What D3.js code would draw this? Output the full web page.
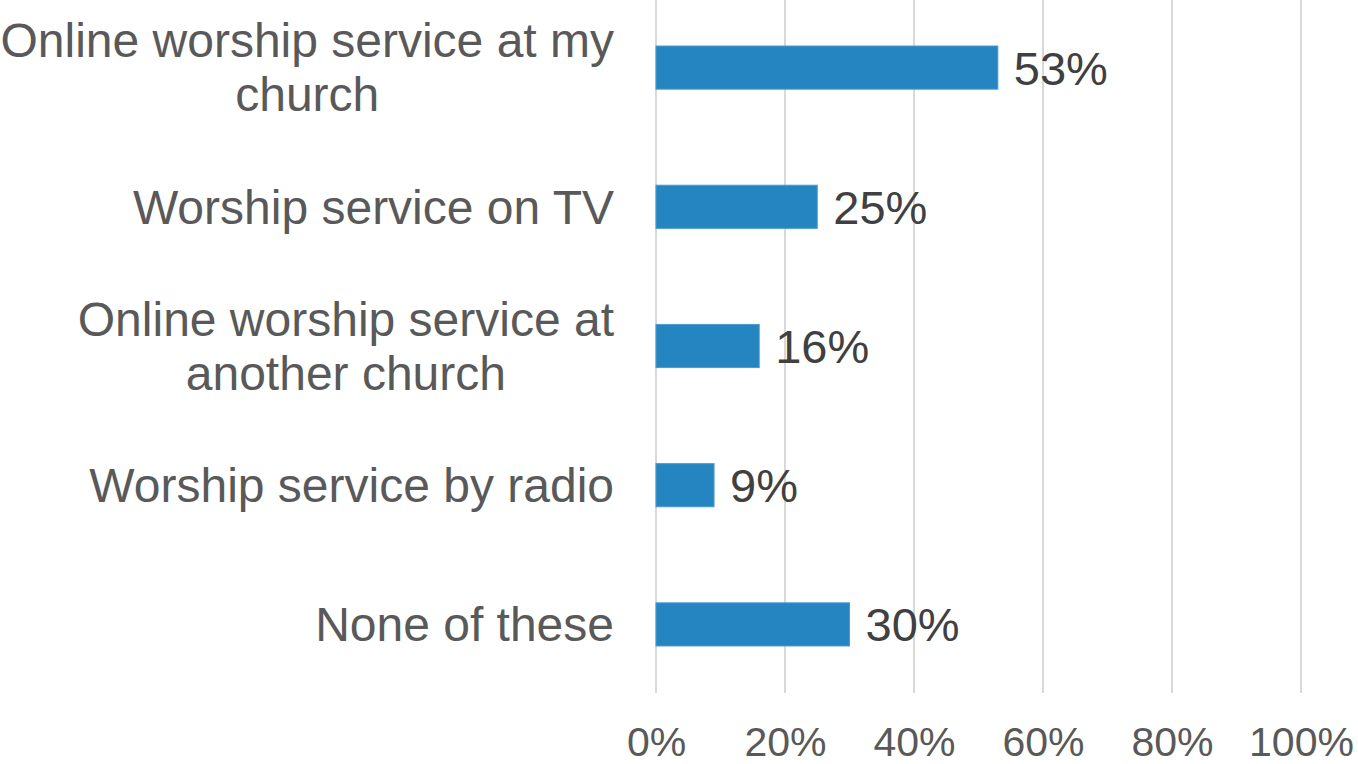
<!DOCTYPE html>
<html>
<head>
<meta charset="utf-8">
<script src="https://cdn.jsdelivr.net/npm/d3@7"></script>
<style>
  html, body { margin: 0; padding: 0; background: #ffffff; }
  svg { display: block; }
  text { font-family: "Liberation Sans", Arial, sans-serif; }
</style>
</head>
<body>
<svg id="chart" width="1358" height="764"></svg>
<script>
const categories = [
  ["Online worship service at my", "church"],
  ["Worship service on TV"],
  ["Online worship service at", "another church"],
  ["Worship service by radio"],
  ["None of these"]
];
const values = [53, 25, 16, 9, 30];
const tickValues = [0, 20, 40, 60, 80, 100];
const tickLabels = ["0%", "20%", "40%", "60%", "80%", "100%"];

const svg = d3.select("#chart");
const plot = { left: 656, right: 1301, top: -2, bottom: 694 };

const x = d3.scaleLinear().domain([0, 100]).range([plot.left, plot.right]);
const y = d3.scaleBand()
  .domain(d3.range(categories.length))
  .range([plot.top, plot.bottom])
  .paddingInner(0.69)
  .paddingOuter(0.345);

// gridlines
svg.append("g").selectAll("line")
  .data(tickValues)
  .join("line")
  .attr("x1", d => x(d)).attr("x2", d => x(d))
  .attr("y1", 0).attr("y2", 693)
  .attr("stroke", "#d9d9d9")
  .attr("stroke-width", 2);

// x axis labels
const xAxis = d3.axisBottom(x)
  .tickValues(tickValues)
  .tickFormat((d, i) => tickLabels[i])
  .tickSize(0)
  .tickPadding(0);
const gx = svg.append("g").attr("transform", "translate(0,727)").call(xAxis);
gx.select(".domain").remove();
gx.selectAll("text")
  .attr("dy", null)
  .attr("y", 29)
  .style("font-size", "41px")
  .style("font-family", "'Liberation Sans', Arial, sans-serif")
  .attr("fill", "#595959");

// bars
svg.append("g").selectAll("rect")
  .data(values)
  .join("rect")
  .attr("x", x(0))
  .attr("y", (d, i) => y(i))
  .attr("width", d => x(d) - x(0))
  .attr("height", y.bandwidth())
  .attr("fill", "#2585c0")
  .attr("stroke", "#4a9bd0")
  .attr("stroke-width", 1);

// value labels
svg.append("g").selectAll("text")
  .data(values)
  .join("text")
  .attr("x", d => x(d) + 16)
  .attr("y", (d, i) => y(i) + y.bandwidth() / 2)
  .attr("dy", "0.36em")
  .style("font-size", "47px")
  .attr("fill", "#404040")
  .text(d => d + "%");

// category labels: block right-aligned, lines centered within block
const labelRight = 614;
const lineH = 54;
const fs = 48;
const gl = svg.append("g");
categories.forEach((lines, i) => {
  const cy = y(i) + y.bandwidth() / 2;
  const t = gl.append("text")
    .style("font-size", fs + "px")
    .attr("fill", "#595959");
  const spans = lines.map((ln) => t.append("tspan").text(ln));
  const widths = spans.map(s => s.node().getComputedTextLength());
  const maxW = d3.max(widths);
  const cx = labelRight - maxW / 2;
  const y0 = cy - (lines.length - 1) * lineH / 2;
  spans.forEach((s, j) => {
    s.attr("x", cx).attr("y", y0 + j * lineH).attr("dy", "0.35em").attr("text-anchor", "middle");
  });
});
</script>
</body>
</html>
